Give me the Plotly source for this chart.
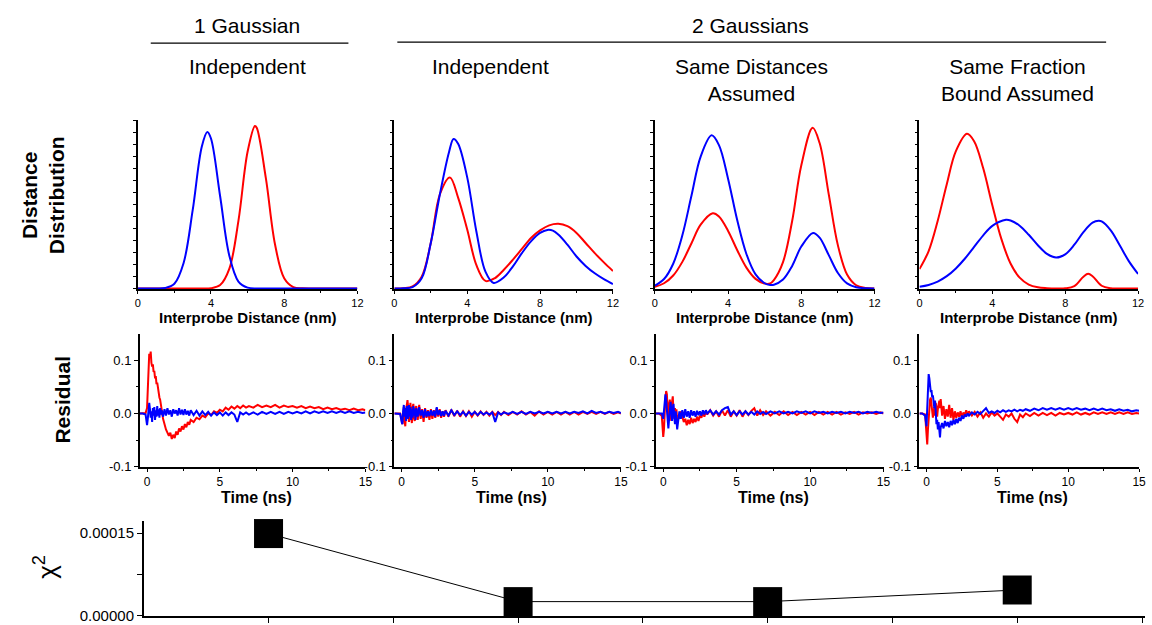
import plotly.graph_objects as go

W, H = 1152, 625
# measured: the photographed page shows the figure slightly reduced; compensate positions
SX, SY = 0.993, 0.9856

# ---------------- Distance distributions (normalised amplitude) ----------------
p1_blue_x = [0, 0.5, 1, 1.5, 2, 2.5, 3, 3.5, 3.8, 4, 4.5, 5, 5.5, 6, 6.5, 7, 8, 9, 10, 11, 12]
p1_blue_y = [0, 0, 0, 0.003, 0.028, 0.150, 0.465, 0.844, 0.93, 0.891, 0.548, 0.196, 0.041, 0.005, 0, 0, 0, 0, 0, 0, 0]
p1_red_x = [0, 1, 2, 3, 3.5, 4, 4.5, 5, 5.5, 6, 6.4, 6.5, 7, 7.5, 8, 8.5, 9, 9.5, 10, 11, 12]
p1_red_y = [0, 0, 0, 0, 0, 0.002, 0.020, 0.116, 0.402, 0.812, 0.965, 0.955, 0.654, 0.261, 0.061, 0.008, 0.001, 0, 0, 0, 0]

p2_blue_x = [0, 0.5, 1, 1.5, 2, 2.5, 3, 3.25, 3.5, 4, 4.5, 5, 5.45, 6, 6.5, 7, 7.5, 8, 8.4, 8.7, 9, 9.5, 10, 10.5, 11, 11.5, 12]
p2_blue_y = [0, 0.001, 0.008, 0.06, 0.27, 0.56, 0.81, 0.888, 0.86, 0.66, 0.34, 0.10, 0.033, 0.065, 0.13, 0.21, 0.28, 0.33, 0.348, 0.344, 0.32, 0.26, 0.19, 0.134, 0.09, 0.055, 0.026]
p2_red_x = [0, 0.5, 1, 1.5, 2, 2.5, 3.05, 3.5, 4, 4.5, 5, 5.5, 6, 6.5, 7, 7.5, 8, 8.5, 9, 9.5, 10, 10.5, 11, 11.5, 12]
p2_red_y = [0, 0.002, 0.012, 0.07, 0.27, 0.56, 0.66, 0.54, 0.35, 0.14, 0.045, 0.06, 0.11, 0.17, 0.235, 0.30, 0.345, 0.375, 0.384, 0.37, 0.33, 0.27, 0.21, 0.155, 0.104]

p3_blue_x = [0, 0.5, 1, 1.5, 2, 2.5, 3.1, 3.5, 4, 4.5, 5, 5.5, 6, 6.3, 6.5, 7, 7.5, 8, 8.64, 9, 9.5, 10, 10.5, 11, 11.5, 12]
p3_blue_y = [0.017, 0.056, 0.147, 0.316, 0.552, 0.784, 0.91, 0.852, 0.651, 0.405, 0.205, 0.084, 0.031, 0.021, 0.022, 0.053, 0.134, 0.249, 0.33, 0.302, 0.198, 0.092, 0.030, 0.007, 0.001, 0]
p3_red_x = [0, 0.5, 1, 1.5, 2, 2.5, 3.16, 3.5, 4, 4.5, 5, 5.5, 6, 6.3, 6.5, 7, 7.5, 8, 8.62, 9, 9.5, 10, 10.5, 11, 11.5, 12]
p3_red_y = [0.010, 0.031, 0.077, 0.158, 0.269, 0.379, 0.447, 0.428, 0.342, 0.227, 0.124, 0.057, 0.029, 0.030, 0.050, 0.157, 0.401, 0.732, 0.955, 0.864, 0.559, 0.256, 0.083, 0.019, 0.003, 0]

p4_blue_x = [0, 0.5, 1, 1.5, 2, 2.5, 3, 3.5, 4, 4.75, 5, 5.5, 6, 6.5, 7, 7.5, 8, 8.5, 9, 9.5, 9.84, 10, 10.5, 11, 11.5, 12]
p4_blue_y = [0.010, 0.021, 0.041, 0.073, 0.119, 0.178, 0.247, 0.316, 0.372, 0.408, 0.404, 0.373, 0.319, 0.257, 0.206, 0.184, 0.203, 0.260, 0.335, 0.391, 0.402, 0.398, 0.345, 0.255, 0.161, 0.086]
p4_red_x = [0, 0.5, 1, 1.5, 2, 2.61, 3, 3.5, 4, 4.5, 5, 5.5, 6, 6.5, 7, 7.5, 8, 8.5, 9, 9.26, 9.5, 10, 10.5, 11, 12]
p4_red_y = [0.115, 0.221, 0.401, 0.620, 0.816, 0.919, 0.875, 0.714, 0.495, 0.293, 0.148, 0.064, 0.023, 0.007, 0.002, 0, 0.001, 0.014, 0.070, 0.087, 0.073, 0.016, 0.001, 0, 0]

dist_ticks = [0, 4, 8, 12]

# ---------------- Residuals ----------------
res_t = [-0.5, -0.3, -0.1,
         0.0, 0.05, 0.1, 0.15, 0.2, 0.25, 0.3, 0.35, 0.4, 0.45, 0.5, 0.55, 0.6, 0.65, 0.7, 0.75, 0.8, 0.85, 0.9, 0.95, 1.0,
         1.1, 1.2, 1.3, 1.4, 1.5, 1.6, 1.7, 1.8, 1.9, 2.0, 2.1, 2.2, 2.3, 2.4, 2.5, 2.6, 2.7, 2.8, 2.9, 3.0,
         3.2, 3.4, 3.6, 3.8, 4.0, 4.2, 4.4, 4.6, 4.8, 5.0, 5.2, 5.4, 5.6, 5.8, 6.0, 6.2, 6.4, 6.6, 6.8, 7.0,
         7.3, 7.6, 7.9, 8.2, 8.5, 8.8, 9.1, 9.4, 9.7, 10.0, 10.3, 10.6, 10.9, 11.2, 11.5, 11.8, 12.1, 12.4, 12.7,
         13.0, 13.3, 13.6, 13.9, 14.2, 14.5, 14.8, 15.0]

r1_red = [0.000, 0.000, 0.001,
          0.010, 0.060, 0.098, 0.112, 0.104, 0.116, 0.095, 0.088, 0.092, 0.078, 0.080, 0.066, 0.070, 0.055, 0.058, 0.044, 0.040, 0.030, 0.026, 0.012, 0.008,
          -0.010, -0.022, -0.030, -0.036, -0.042, -0.036, -0.048, -0.040, -0.046, -0.034, -0.040, -0.028, -0.034, -0.024, -0.030, -0.020, -0.026, -0.016, -0.021, -0.012,
          -0.016, -0.008, -0.011, -0.004, -0.007, 0.000, -0.003, 0.004, 0.001, 0.007, 0.004, 0.011, 0.007, 0.013, 0.009, 0.014, 0.010, 0.015, 0.011, 0.014,
          0.011, 0.016, 0.012, 0.015, 0.012, 0.016, 0.011, 0.015, 0.012, 0.014, 0.011, 0.014, 0.010, 0.013, 0.010, 0.012, 0.008, 0.011, 0.008,
          0.010, 0.007, 0.009, 0.006, 0.009, 0.006, 0.008, 0.006]
r1_blue = [0.000, 0.000, -0.002,
           -0.022, -0.010, 0.012, 0.020, 0.008, -0.008, 0.004, -0.016, 0.010, -0.004, 0.012, -0.012, 0.006, -0.006, 0.014, -0.004, 0.008, -0.008, 0.010, -0.002, 0.006,
           -0.006, 0.008, -0.004, 0.010, -0.002, 0.006, -0.006, 0.008, 0.000, 0.006, -0.004, 0.010, -0.002, 0.007, -0.003, 0.008, -0.002, 0.005, -0.004, 0.006,
           -0.003, 0.005, -0.004, 0.004, -0.003, 0.003, -0.004, 0.002, -0.003, 0.002, -0.004, 0.002, -0.003, 0.002, -0.002, -0.016, 0.002, -0.002, 0.002, -0.002,
           0.002, -0.002, 0.003, -0.001, 0.003, -0.001, 0.003, -0.001, 0.003, 0.000, 0.003, 0.000, 0.004, 0.000, 0.004, 0.001, 0.004, 0.001, 0.004,
           0.001, 0.004, 0.001, 0.004, 0.001, 0.003, 0.001, 0.002]

r2_red = [0.000, 0.000, 0.000,
          -0.012, -0.020, -0.006, 0.012, -0.014, -0.024, 0.006, 0.022, 0.025, 0.010, -0.016, 0.004, 0.020, -0.008, -0.018, 0.012, 0.018, -0.010, -0.014, 0.010, 0.014,
          -0.012, 0.016, -0.010, 0.008, -0.016, 0.010, -0.008, 0.006, -0.012, 0.008, -0.010, 0.006, -0.008, 0.010, -0.006, 0.008, -0.008, 0.004, -0.006, 0.006,
          -0.006, 0.007, -0.005, 0.005, -0.006, 0.004, -0.005, 0.004, -0.006, 0.003, -0.004, 0.004, -0.003, 0.003, -0.004, 0.003, -0.003, 0.003, -0.003, 0.003,
          -0.003, 0.003, -0.002, 0.004, -0.002, 0.003, -0.004, 0.004, -0.002, 0.003, -0.002, 0.003, -0.002, 0.003, -0.002, 0.003, -0.002, 0.003, -0.001,
          0.003, -0.001, 0.003, -0.001, 0.003, -0.001, 0.002, 0.000]
r2_blue = [0.000, 0.000, -0.001,
           -0.016, -0.020, 0.004, 0.016, -0.006, 0.010, -0.014, 0.014, 0.006, -0.010, 0.016, -0.006, 0.012, -0.012, 0.008, -0.008, 0.014, -0.004, 0.008, -0.012, 0.010,
           -0.006, 0.012, -0.004, 0.006, -0.008, 0.008, -0.006, 0.004, -0.005, 0.006, -0.004, 0.005, -0.006, 0.012, -0.003, 0.006, -0.005, 0.004, -0.004, 0.005,
           -0.004, 0.006, -0.003, 0.004, -0.003, 0.003, -0.004, 0.003, -0.002, 0.003, -0.003, 0.003, -0.002, 0.002, -0.002, 0.002, -0.016, 0.002, -0.002, 0.002,
           -0.001, 0.003, -0.001, 0.003, -0.001, 0.003, 0.000, 0.003, 0.000, 0.003, 0.000, 0.003, 0.000, 0.003, 0.000, 0.003, 0.001, 0.004, 0.000,
           0.005, 0.001, 0.003, 0.000, 0.003, 0.001, 0.003, 0.001]

r3_red = [0.000, 0.000, -0.004,
          -0.044, -0.030, 0.010, 0.030, 0.042, 0.036, 0.004, -0.012, 0.018, 0.026, -0.004, -0.014, 0.022, 0.032, 0.002, -0.010, 0.010, -0.006, 0.008, -0.014, -0.004,
          -0.010, 0.004, -0.008, -0.016, -0.010, -0.022, -0.012, -0.020, -0.008, -0.018, -0.010, -0.016, -0.006, -0.014, -0.004, -0.008, 0.002, -0.006, 0.004, -0.002,
          0.006, -0.004, 0.004, -0.006, 0.006, -0.004, 0.006, -0.006, 0.004, -0.004, 0.006, -0.006, 0.004, -0.003, 0.005, 0.010, -0.004, 0.006, -0.003, 0.004,
          -0.004, 0.003, -0.003, 0.004, -0.003, 0.003, -0.003, 0.003, -0.002, 0.003, -0.003, 0.003, -0.002, 0.003, -0.002, 0.003, -0.002, 0.002, -0.001,
          0.003, -0.002, 0.002, 0.000, 0.002, -0.001, 0.002, 0.000]
r3_blue = [0.000, 0.000, 0.000,
           -0.010, 0.006, 0.020, 0.036, 0.024, 0.004, -0.018, -0.028, -0.010, 0.016, 0.022, 0.006, -0.014, 0.010, 0.018, -0.006, -0.020, 0.004, -0.010, -0.030, -0.018,
           0.004, -0.010, 0.006, -0.008, 0.008, -0.006, 0.004, -0.008, 0.006, -0.004, 0.004, -0.006, 0.005, -0.003, 0.004, -0.004, 0.006, -0.002, 0.006, 0.000,
           0.006, -0.002, 0.004, -0.002, 0.006, 0.010, 0.012, -0.002, 0.004, -0.003, 0.004, -0.002, 0.004, -0.002, 0.003, -0.002, 0.004, -0.001, 0.003, -0.001,
           0.004, 0.000, 0.004, 0.000, 0.003, 0.000, 0.004, 0.001, 0.004, 0.000, 0.004, 0.001, 0.003, 0.000, 0.003, 0.001, 0.003, 0.000, 0.003,
           0.001, 0.003, 0.000, 0.003, 0.001, 0.003, 0.001, 0.002]

r4_red = [0.000, 0.000, -0.002,
          -0.040, -0.058, -0.030, -0.004, 0.016, 0.026, 0.030, 0.018, 0.006, -0.008, 0.004, 0.012, -0.004, 0.020, 0.012, -0.006, 0.008, 0.016, 0.024, 0.010, 0.027,
          -0.004, 0.014, -0.010, 0.008, -0.006, 0.016, -0.008, 0.010, -0.012, 0.004, -0.008, 0.002, -0.006, 0.004, -0.008, 0.002, -0.004, 0.006, -0.002, 0.004,
          -0.004, 0.003, -0.006, 0.002, -0.008, 0.000, -0.006, 0.002, -0.004, 0.000, -0.006, -0.012, -0.002, -0.006, 0.000, -0.010, -0.016, -0.002, -0.007, 0.000,
          -0.005, 0.001, -0.004, 0.001, -0.003, 0.001, -0.004, 0.001, -0.002, 0.001, -0.002, 0.002, -0.002, 0.001, -0.002, 0.002, -0.001, 0.002, -0.001,
          0.002, -0.001, 0.002, -0.001, 0.002, -0.001, 0.001, 0.000]
r4_blue = [0.000, 0.000, -0.004,
           -0.024, 0.010, 0.050, 0.074, 0.066, 0.048, 0.040, 0.044, 0.030, 0.034, 0.026, 0.010, 0.024, -0.010, -0.020, -0.012, -0.030, -0.016, -0.036, -0.045, -0.026,
           -0.018, -0.028, -0.014, -0.024, -0.016, -0.026, -0.014, -0.022, -0.012, -0.020, -0.010, -0.018, -0.008, -0.014, -0.004, -0.010, -0.002, -0.006, 0.000, -0.004,
           0.002, -0.002, 0.003, -0.001, 0.004, 0.010, 0.001, 0.004, 0.001, 0.005, 0.002, 0.006, 0.003, 0.006, 0.004, 0.007, 0.004, 0.007, 0.005, 0.008,
           0.005, 0.009, 0.006, 0.010, 0.007, 0.010, 0.007, 0.010, 0.007, 0.010, 0.007, 0.010, 0.007, 0.009, 0.006, 0.009, 0.006, 0.009, 0.006,
           0.008, 0.005, 0.008, 0.005, 0.007, 0.004, 0.006, 0.005]

# ---------------- Chi-square ----------------
chi_x = [1, 2, 3, 4]
chi_y = [0.000149, 0.000026, 0.000026, 0.000047]

# ---------------- Text ----------------
group_titles = ["1 Gaussian", "2 Gaussians"]
panel_titles = ["Independent", "Independent", "Same Distances<br>Assumed", "Same Fraction<br>Bound Assumed"]

RED = "#ff0000"
BLUE = "#0000ff"
FONT = "Liberation Sans, Arial, sans-serif"


def fx(p):
    return min(p / (W * SX), 1.0)


def fy(p):
    return max(1 - p / (H * SY), 0.0)


fig = go.Figure()

dist_data = [
    (p1_red_x, p1_red_y, p1_blue_x, p1_blue_y),
    (p2_red_x, p2_red_y, p2_blue_x, p2_blue_y),
    (p3_red_x, p3_red_y, p3_blue_x, p3_blue_y),
    (p4_red_x, p4_red_y, p4_blue_x, p4_blue_y),
]
res_data = [(r1_red, r1_blue), (r2_red, r2_blue), (r3_red, r3_blue), (r4_red, r4_blue)]

dist_px = [(135, 355), (392, 611), (653, 873), (918, 1137)]
dist_top, dist_bot = 120, 289
res_px = [(137, 363), (392, 619), (654, 882), (918, 1138)]
res_top, res_bot = 333, 466


def ax_name(i, kind):
    return kind if i == 1 else f"{kind}{i}"


layout_axes = {}
axis_common = dict(showline=True, linecolor="black", linewidth=1.5, showgrid=False,
                   zeroline=False, ticks="outside", tickcolor="black", tickwidth=1,
                   tickfont=dict(family=FONT, size=12, color="black"), mirror=False)

for k in range(4):
    i = k + 1
    rx, ry, bx, by = dist_data[k]
    fig.add_trace(go.Scatter(x=rx, y=ry, mode="lines", line=dict(color=RED, width=2, shape="spline"),
                             xaxis=ax_name(i, "x"), yaxis=ax_name(i, "y"), hoverinfo="skip"))
    fig.add_trace(go.Scatter(x=bx, y=by, mode="lines", line=dict(color=BLUE, width=2, shape="spline"),
                             xaxis=ax_name(i, "x"), yaxis=ax_name(i, "y"), hoverinfo="skip"))
    x0, x1 = dist_px[k]
    layout_axes["xaxis" if i == 1 else f"xaxis{i}"] = dict(
        axis_common, domain=[fx(x0), fx(x1)], anchor=ax_name(i, "y"), range=[0, 12],
        tickmode="array", tickvals=dist_ticks, ticklen=3,
        tickfont=dict(family=FONT, size=11, color="black"),
        minor=dict(tickvals=[2, 6, 10], ticklen=2, ticks="outside", tickcolor="black"))
    layout_axes["yaxis" if i == 1 else f"yaxis{i}"] = dict(
        axis_common, domain=[fy(dist_bot), fy(dist_top)], anchor=ax_name(i, "x"), range=[-0.006, 1.0],
        tickmode="linear", tick0=0, dtick=1 / 14, ticklen=3, showticklabels=False)

    j = i + 4
    rr, rb = res_data[k]
    fig.add_trace(go.Scatter(x=res_t, y=rr, mode="lines", line=dict(color=RED, width=2),
                             xaxis=f"x{j}", yaxis=f"y{j}", hoverinfo="skip"))
    fig.add_trace(go.Scatter(x=res_t, y=rb, mode="lines", line=dict(color=BLUE, width=2),
                             xaxis=f"x{j}", yaxis=f"y{j}", hoverinfo="skip"))
    x0, x1 = res_px[k]
    layout_axes[f"xaxis{j}"] = dict(
        axis_common, domain=[fx(x0), fx(x1)], anchor=f"y{j}", range=[-0.5, 15],
        tickmode="array", tickvals=[0, 5, 10, 15], ticklen=3,
        tickfont=dict(family=FONT, size=12, color="black"),
        minor=dict(tickvals=[2.5, 7.5, 12.5], ticklen=2, ticks="outside", tickcolor="black"))
    layout_axes[f"yaxis{j}"] = dict(
        axis_common, domain=[fy(res_bot), fy(res_top)], anchor=f"x{j}", range=[-0.1, 0.15],
        tickmode="array", tickvals=[-0.1, 0.0, 0.1], ticktext=["-0.1", "0.0", "0.1"], ticklen=4,
        tickfont=dict(family=FONT, size=13, color="black"),
        minor=dict(tickvals=[-0.05, 0.05], ticklen=2, ticks="outside", tickcolor="black"))

# chi-square panel
fig.add_trace(go.Scatter(x=chi_x, y=chi_y, mode="lines+markers",
                         line=dict(color="black", width=1),
                         marker=dict(symbol="square", size=29, color="black"),
                         cliponaxis=False, xaxis="x9", yaxis="y9", hoverinfo="skip"))
chi_left, chi_right = 141, 1144
layout_axes["xaxis9"] = dict(axis_common, domain=[fx(chi_left), fx(chi_right)], anchor="y9",
                             range=[0.5, 0.5 + (chi_right - chi_left) / 250],
                             tickmode="array", tickvals=[1, 1.5, 2, 2.5, 3, 3.5, 4, 4.5], ticklen=5,
                             showticklabels=False)
layout_axes["yaxis9"] = dict(axis_common, domain=[fy(615), fy(520)], anchor="x9", range=[0, 0.000172],
                             tickmode="array", tickvals=[0, 0.00015],
                             ticktext=["0.00000", "0.00015"], ticklen=5,
                             tickfont=dict(family=FONT, size=15, color="black"),
                             minor=dict(tickvals=[0.000075], ticklen=5, ticks="outside", tickcolor="black"))

annotations = []


def add_text(text, x, y, size, bold=False, angle=0):
    annotations.append(dict(text=f"<b>{text}</b>" if bold else text, x=fx(x), y=fy(y),
                            xref="paper", yref="paper", xanchor="center", yanchor="middle",
                            showarrow=False, textangle=angle,
                            font=dict(family=FONT, size=size, color="black")))


add_text(group_titles[0], 244, 25, 21)
add_text(group_titles[1], 749, 25, 21)
for cx, t in zip([245, 488, 750, 1016], panel_titles):
    n_lines = t.count("<br>") + 1
    add_text(t, cx, 66 if n_lines == 1 else 79.5, 21)

for k in range(4):
    x0, x1 = dist_px[k]
    add_text("Interprobe Distance (nm)", (x0 + x1) / 2, 317, 15, bold=True)
    x0, x1 = res_px[k]
    add_text("Time (ns)", x0 + 7 + (x1 - x0 - 7) / 2, 497, 16, bold=True)

add_text("Distance<br>Distribution", 40, 195, 21, bold=True, angle=-90)
add_text("Residual", 60, 399, 21, bold=True, angle=-90)
add_text("χ<sup>2</sup>", 43, 566, 26, angle=-90)

shapes = [
    dict(type="line", xref="paper", yref="paper", x0=fx(148), x1=fx(346), y0=fy(43), y1=fy(43),
         line=dict(color="black", width=1.2)),
    dict(type="line", xref="paper", yref="paper", x0=fx(395), x1=fx(1105), y0=fy(42), y1=fy(42),
         line=dict(color="black", width=1.2)),
]

fig.update_layout(
    width=W, height=H, margin=dict(l=0, r=0, t=0, b=0),
    paper_bgcolor="white", plot_bgcolor="rgba(0,0,0,0)",
    showlegend=False, annotations=annotations, shapes=shapes,
    font=dict(family=FONT, color="black"),
    **layout_axes,
)

fig.write_html("out.html")
